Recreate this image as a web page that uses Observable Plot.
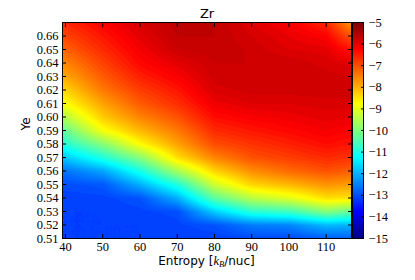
<!DOCTYPE html>
<html><head><meta charset="utf-8">
<script src="https://cdn.jsdelivr.net/npm/d3@7"></script>
<script src="https://cdn.jsdelivr.net/npm/@observablehq/plot@0.6"></script>
<style>
html,body{margin:0;padding:0;background:#fff;}
#wrap{position:relative;width:415px;height:280px;overflow:hidden;background:#fff;}
#wrap svg{position:absolute;top:0;}
</style></head><body><div id="wrap"></div>
<script>
// Entropy columns of the sampled grid (kB/nuc)
const entropy = [39.2, 50, 60, 70, 80, 90, 100, 110, 116.8];
// Ye rows (bottom to top)
const ye = [0.51,0.52,0.53,0.54,0.55,0.56,0.57,0.58,0.59,0.60,0.61,0.62,0.63,0.64,0.65,0.66,0.67];
// log abundance of Zr, one list per entropy column, Ye from 0.51 to 0.67
const zS39  = [-13.1,-13.1,-13.1,-13.08,-12.95,-12.6,-11.8,-10.9,-10.3,-9.5,-8.8,-8.35,-7.9,-7.55,-7.2,-6.9,-6.6];
const zS50  = [-13.1,-13.1,-13.1,-13.05,-12.85,-12.1,-10.9,-9.9,-8.8,-8.2,-7.8,-7.4,-7.1,-6.85,-6.6,-6.4,-6.2];
const zS60  = [-13.1,-13.1,-13.05,-12.9,-12.0,-11.0,-9.9,-8.7,-8.0,-7.5,-7.1,-6.8,-6.5,-6.25,-6.1,-5.95,-5.8];
const zS70  = [-13.1,-13.05,-12.95,-12.0,-10.9,-9.6,-8.4,-7.8,-7.4,-7.0,-6.65,-6.4,-6.15,-5.95,-5.7,-5.6,-5.55];
const zS80  = [-13.1,-12.9,-11.7,-10.3,-9.2,-8.3,-7.5,-6.95,-6.6,-6.3,-6.05,-5.85,-5.75,-5.7,-5.62,-5.6,-5.6];
const zS90  = [-13.0,-12.5,-10.8,-9.4,-8.3,-7.6,-7.0,-6.7,-6.4,-6.15,-5.9,-5.75,-5.7,-5.7,-5.72,-5.8,-5.9];
const zS100 = [-13.0,-12.4,-10.6,-9.0,-8.0,-7.25,-6.8,-6.5,-6.25,-6.05,-5.9,-5.75,-5.7,-5.72,-5.9,-6.0,-6.15];
const zS110 = [-12.8,-11.9,-9.9,-8.4,-7.65,-7.0,-6.6,-6.3,-6.1,-5.95,-5.85,-5.72,-5.75,-5.85,-5.95,-6.2,-6.6];
const zS117 = [-12.75,-11.95,-10.2,-8.45,-7.75,-7.15,-6.7,-6.4,-6.2,-6.0,-5.85,-5.7,-5.8,-5.95,-6.4,-7.05,-7.7];
// tick labels
const xTicks = [40,50,60,70,80,90,100,110];
const yTicks = [0.51,0.52,0.53,0.54,0.55,0.56,0.57,0.58,0.59,0.60,0.61,0.62,0.63,0.64,0.65,0.66];
const cTicks = [-15,-14,-13,-12,-11,-10,-9,-8,-7,-6,-5];
const titleText = "Zr";
const yLabel = "Ye";

const columns = [zS39, zS50, zS60, zS70, zS80, zS90, zS100, zS110, zS117];
const table = [];
entropy.forEach((s, i) => ye.forEach((y, j) => table.push({S: s, Ye: y, z: columns[i][j]})));

function jet(t) {
  const c = v => Math.round(255 * Math.max(0, Math.min(1, v)));
  const r = Math.min(4 * t - 1.5, -4 * t + 4.5);
  const g = Math.min(4 * t - 0.5, -4 * t + 3.5);
  const b = Math.min(4 * t + 0.5, -4 * t + 2.5);
  return `rgb(${c(r)},${c(g)},${c(b)})`;
}

// bilinear interpolation over the regular sample grid (used by Plot.contour)
function locate(p, v) {
  const n = p.length, inc = p[n - 1] > p[0];
  let k = 0;
  while (k < n - 2 && (inc ? p[k + 1] < v : p[k + 1] > v)) ++k;
  const t = (v - p[k]) / (p[k + 1] - p[k]);
  return [k, Math.max(0, Math.min(1, t))];
}
function bilinear(index, w, h, X, Y, V) {
  const nC = entropy.length, nR = ye.length;
  const cx = entropy.map((_, i) => X[i * nR]);
  const ry = ye.map((_, j) => Y[j]);
  const out = new Float64Array(w * h);
  for (let py = 0; py < h; ++py) {
    const [j, ty] = locate(ry, py + 0.5);
    for (let px = 0; px < w; ++px) {
      const [i, tx] = locate(cx, px + 0.5);
      const v00 = V[i * nR + j], v10 = V[(i + 1) * nR + j];
      const v01 = V[i * nR + j + 1], v11 = V[(i + 1) * nR + j + 1];
      out[py * w + px] = (1 - tx) * (1 - ty) * v00 + tx * (1 - ty) * v10 + (1 - tx) * ty * v01 + tx * ty * v11;
    }
  }
  return out;
}

const levels = d3.range(-15, -4.95, 0.1).map(v => +v.toFixed(2));
const serif = "'Liberation Serif','DejaVu Serif',serif";
const sans = "'DejaVu Sans',sans-serif";
const colorOpts = {type: "linear", domain: [-15, -5], interpolate: jet};

const main = Plot.plot({
  width: 415, height: 280,
  marginLeft: 62, marginRight: 64, marginTop: 22, marginBottom: 42,
  style: {fontFamily: serif, fontSize: "12.5px", background: "transparent", color: "#000", overflow: "visible"},
  x: {domain: [39.2, 116.8], label: null},
  y: {domain: [0.51, 0.67], label: null},
  color: colorOpts,
  marks: [
    Plot.contour(table, {x: "S", y: "Ye", value: "z", fill: "value", stroke: "value", strokeWidth: 0.6,
      interpolate: bilinear, pixelSize: 1, thresholds: levels}),
    Plot.frame({stroke: "#000", strokeWidth: 1}),
    Plot.axisX(xTicks, {anchor: "bottom", tickSize: -4, tickPadding: 8, label: null}),
    Plot.axisX(xTicks, {anchor: "top", tickSize: -4, tickFormat: () => "", label: null}),
    Plot.axisY(yTicks, {anchor: "left", tickSize: -4, tickPadding: 8, tickFormat: d3.format(".2f"), label: null}),
    Plot.axisY(yTicks, {anchor: "right", tickSize: -4, tickFormat: () => "", label: null}),
    Plot.text([titleText], {frameAnchor: "top", lineAnchor: "bottom", dy: -4.5, fontFamily: sans, fontSize: 13, fill: "#000"}),
    Plot.text([yLabel], {frameAnchor: "left", dx: -36, rotate: -90, fontFamily: sans, fontSize: 12, fill: "#000"})
  ]
});

// x-axis label with italic k and subscript B
const xl = d3.select(main).append("text")
  .attr("x", 206.5).attr("y", 265).attr("text-anchor", "middle")
  .attr("font-family", sans).attr("font-size", 12).attr("fill", "#000");
xl.append("tspan").text("Entropy [");
xl.append("tspan").attr("font-family", serif).attr("font-style", "italic").attr("font-size", 12.5).text("k");
xl.append("tspan").attr("font-family", serif).attr("font-style", "italic").attr("font-size", 8.5).attr("dy", 2).text("B");
xl.append("tspan").attr("dy", -2).text("/nuc]");

const bar = Plot.plot({
  width: 75, height: 280,
  marginLeft: 12, marginRight: 52, marginTop: 22, marginBottom: 42,
  style: {fontFamily: serif, fontSize: "12.5px", background: "transparent", color: "#000", overflow: "visible"},
  x: {domain: [0, 1], axis: null},
  y: {domain: [-15, -5], axis: null},
  color: colorOpts,
  marks: [
    Plot.raster({fill: (x, y) => y, x1: 0, x2: 1, y1: -15, y2: -5}),
    Plot.frame({stroke: "#000", strokeWidth: 1}),
    Plot.axisY(cTicks, {anchor: "right", tickSize: -3, tickPadding: 8, tickFormat: d => d < 0 ? "\u2212" + Math.abs(d) : String(d), label: null})
  ]
});
bar.style.left = "340px";
main.style.left = "0px";
const wrap = document.getElementById("wrap");
wrap.appendChild(main);
wrap.appendChild(bar);
</script>
</body></html>
